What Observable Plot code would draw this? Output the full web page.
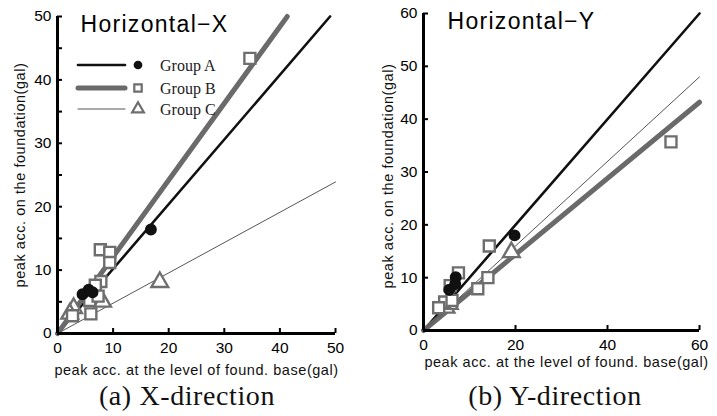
<!DOCTYPE html>
<html><head><meta charset="utf-8">
<script src="https://cdn.jsdelivr.net/npm/d3@7"></script>
<script src="https://cdn.jsdelivr.net/npm/@observablehq/plot@0.6"></script>
<style>
body{margin:0;background:#fff;}
#wrap{position:relative;width:717px;height:416px;overflow:hidden;font-family:"Liberation Sans",Arial,sans-serif;}
.cap{position:absolute;font-family:"Liberation Serif",serif;font-size:28px;letter-spacing:0.6px;color:#111;text-align:center;width:300px;}
.ttl text{letter-spacing:1.3px;}
.albl text{letter-spacing:0.55px;}
</style></head><body>
<div id="wrap"></div>
<script>
// ---- Data: X-direction (panel a) ----
const xA_x = [4.5, 5.6, 6.3, 16.8];
const xA_y = [6.2, 6.9, 6.5, 16.4];
const xB_x = [34.6, 7.7, 9.4, 9.4, 7.8, 6.8, 6.0, 2.7, 5.8, 7.3];
const xB_y = [43.4, 13.2, 12.8, 11.2, 8.2, 7.6, 3.1, 2.8, 5.2, 5.9];
const xC_x = [18.4, 8.1, 2.9, 2.2];
const xC_y = [8.1, 5.0, 4.0, 3.1];
// ---- Data: Y-direction (panel b) ----
const yA_x = [19.8, 7.0, 6.9, 5.6];
const yA_y = [18.0, 10.1, 8.8, 7.7];
const yB_x = [53.8, 14.3, 14.0, 11.8, 7.6, 5.8, 4.6, 3.3, 6.2];
const yB_y = [35.7, 16.0, 10.0, 7.9, 10.9, 8.5, 5.4, 4.3, 5.7];
const yC_x = [19.1, 4.9, 5.6];
const yC_y = [14.8, 4.3, 5.0];
// regression slopes (through origin): Group A, B, C
const slopesX = [1.02, 1.21, 0.478];
const slopesY = [1.0, 0.72, 0.80];
const groups = ["Group A", "Group B", "Group C"];
const xTicksA = [0, 10, 20, 30, 40, 50];
const yTicksA = [0, 10, 20, 30, 40, 50];
const yMinorA = [0, 5, 10, 15, 20, 25, 30, 35, 40, 45, 50];
const xTicksB = [0, 20, 40, 60];
const yTicksB = [0, 10, 20, 30, 40, 50, 60];

const lineStyle = [
  {stroke: "#111", strokeWidth: 2.6},
  {stroke: "#6a6a6a", strokeWidth: 5},
  {stroke: "#555", strokeWidth: 1}
];
const ptsColor = "#6e6e6e";

function pts(xs, ys){ return xs.map((x,i)=>({x, y: ys[i]})); }
function lineData(slope, max){
  const xe = Math.min(max, max / slope);
  return [{x:0,y:0},{x:xe,y:slope*xe}];
}

function panel(o){
  const marks = [];
  o.slopes.forEach((s,i)=>{
    marks.push(Plot.line(lineData(s, o.max), {x:"x", y:"y", ...lineStyle[i], strokeLinecap:"round"}));
  });
  marks.push(Plot.dot(pts(o.Cx,o.Cy), {x:"x", y:"y", symbol:"triangle", r:6.2, stroke:ptsColor, strokeWidth:2.4, fill:"#fff"}));
  marks.push(Plot.dot(pts(o.Bx,o.By), {x:"x", y:"y", symbol:"square", r:6.2, stroke:ptsColor, strokeWidth:2.4, fill:"#fff"}));
  marks.push(Plot.dot(pts(o.Ax,o.Ay), {x:"x", y:"y", r:5.2, fill:"#111", stroke:"#111"}));
  marks.push(Plot.ruleX([0], {stroke:"#000", strokeWidth:3}));
  marks.push(Plot.ruleY([0], {stroke:"#000", strokeWidth:3}));
  marks.push(Plot.axisX({ticks:o.xTicks, tickSize:-5, tickPadding:13, strokeWidth:2, fontSize:15.5, label:null}));
  marks.push(Plot.axisY({ticks:o.yTicks, tickSize:0, tickPadding:6, fontSize:15.5, label:null}));
  marks.push(Plot.axisY({ticks:o.yMinor, tickSize:-5, tickPadding:0, strokeWidth:2, text:null, label:null}));
  marks.push(Plot.text([o.title], {frameAnchor:"top-left", textAnchor:"start", lineAnchor:"top", dx:o.titleDx, dy:-1, fontSize:23, fill:"#000", className:"ttl"}));
  marks.push(Plot.text([o.xlabel], {frameAnchor:"bottom", textAnchor:"middle", lineAnchor:"middle", dx:o.xlabDx, dy:o.xlabDy, fontSize:14.5, fill:"#111", className:"albl"}));
  marks.push(Plot.text([o.ylabel], {frameAnchor:"left", textAnchor:"middle", lineAnchor:"middle", rotate:-90, dx:o.ylabDx, dy:o.ylabDy, fontSize:14.5, fill:"#111", className:"albl"}));
  return Plot.plot({
    width:o.width, height:380,
    marginLeft:o.ml, marginRight:o.mr, marginTop:o.mt, marginBottom:o.mb,
    style:{fontFamily:"'Liberation Sans', Arial, sans-serif", background:"transparent", overflow:"visible"},
    x:{domain:[0,o.max]}, y:{domain:[0,o.max]},
    marks
  });
}

const wrap = document.getElementById("wrap");
const xl = "peak acc. at the level of found. base(gal)";
const yl = "peak acc. on the foundation(gal)";

const p1 = panel({width:360, ml:57, mr:25, mt:16, mb:47, max:50,
  slopes:slopesX, Ax:xA_x, Ay:xA_y, Bx:xB_x, By:xB_y, Cx:xC_x, Cy:xC_y,
  xTicks:xTicksA, yTicks:yTicksA, yMinor:yMinorA, title:"Horizontal−X", titleDx:23,
  xlabel:xl, xlabDx:0, xlabDy:37, ylabel:yl, ylabDx:-37, ylabDy:0});
p1.style.position="absolute"; p1.style.left="0px"; p1.style.top="0px";
wrap.appendChild(p1);

const p2 = panel({width:357, ml:63, mr:18, mt:13, mb:50, max:60,
  slopes:slopesY, Ax:yA_x, Ay:yA_y, Bx:yB_x, By:yB_y, Cx:yC_x, Cy:yC_y,
  xTicks:xTicksB, yTicks:yTicksB, yMinor:yTicksB, title:"Horizontal−Y", titleDx:24,
  xlabel:xl, xlabDx:5, xlabDy:32, ylabel:yl, ylabDx:-35, ylabDy:4});
p2.style.position="absolute"; p2.style.left="360px"; p2.style.top="0px";
wrap.appendChild(p2);

// legend (panel a)
const ns = "http://www.w3.org/2000/svg";
const leg = document.createElementNS(ns, "svg");
leg.setAttribute("width", 240); leg.setAttribute("height", 70);
leg.style.position="absolute"; leg.style.left="70px"; leg.style.top="52px";
const ly = [13, 36, 57];
const sym = [d3.symbolCircle, d3.symbolSquare, d3.symbolTriangle];
groups.forEach((g,i)=>{
  const l = document.createElementNS(ns,"line");
  l.setAttribute("x1",8); l.setAttribute("x2",55); l.setAttribute("y1",ly[i]); l.setAttribute("y2",ly[i]);
  l.setAttribute("stroke",lineStyle[i].stroke); l.setAttribute("stroke-width",lineStyle[i].strokeWidth);
  l.setAttribute("stroke-linecap","round");
  leg.appendChild(l);
  const p = document.createElementNS(ns,"path");
  p.setAttribute("d", d3.symbol(sym[i], i===0?60:(i===1?55:60))());
  p.setAttribute("transform",`translate(68,${ly[i]})`);
  if(i===0){p.setAttribute("fill","#111");}
  else {p.setAttribute("fill","#fff"); p.setAttribute("stroke",ptsColor); p.setAttribute("stroke-width",2.2);}
  leg.appendChild(p);
  const t = document.createElementNS(ns,"text");
  t.setAttribute("x",90); t.setAttribute("y",ly[i]); t.setAttribute("dy","0.35em");
  t.setAttribute("font-family","'Liberation Serif', serif"); t.setAttribute("font-size",16); t.setAttribute("fill","#222");
  t.textContent = g;
  leg.appendChild(t);
});
wrap.appendChild(leg);

const c1 = document.createElement("div"); c1.className="cap"; c1.textContent="(a) X-direction";
c1.style.left=(187-150)+"px"; c1.style.top="380px"; wrap.appendChild(c1);
const c2 = document.createElement("div"); c2.className="cap"; c2.textContent="(b) Y-direction";
c2.style.left=(555-150)+"px"; c2.style.top="380px"; wrap.appendChild(c2);
</script>
</body></html>
